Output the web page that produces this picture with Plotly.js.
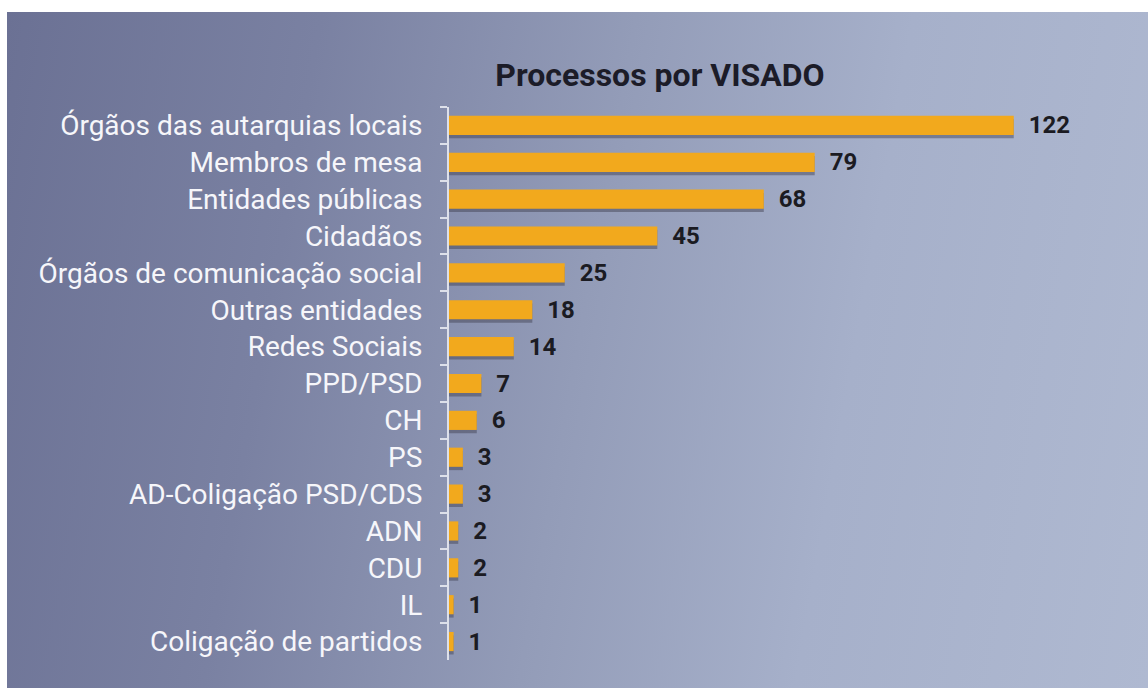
<!DOCTYPE html>
<html>
<head>
<meta charset="utf-8">
<script src="https://cdn.plot.ly/plotly-3.0.1.min.js"></script>
<style>
  html, body { margin: 0; padding: 0; background: #ffffff; }
  #bg { position: absolute; left: 7px; top: 12px; width: 1141px; height: 676px;
        background: linear-gradient(100deg, #6b7194 0%, #7a81a2 25%, #939cb8 50%, #a6b0ca 72%, #afb9d1 100%); }
  #chart { position: absolute; left: 0; top: 0; width: 1148px; height: 688px; }
</style>
</head>
<body>
<div id="bg"></div>
<div id="chart"></div>
<script>
const categories = [
  "Órgãos das autarquias locais",
  "Membros de mesa",
  "Entidades públicas",
  "Cidadãos",
  "Órgãos de comunicação social",
  "Outras entidades",
  "Redes Sociais",
  "PPD/PSD",
  "CH",
  "PS",
  "AD-Coligação PSD/CDS",
  "ADN",
  "CDU",
  "IL",
  "Coligação de partidos"
];
const values = [122, 79, 68, 45, 25, 18, 14, 7, 6, 3, 3, 2, 2, 1, 1];
const chartTitle = "Processos por VISADO";

const barWidth = 0.52;

const shadow = {
  type: 'bar',
  orientation: 'h',
  y: categories,
  x: values,
  width: barWidth,
  offset: -barWidth / 2 + 0.09,
  marker: { color: 'rgba(60,60,75,0.45)' },
  hoverinfo: 'skip',
  showlegend: false
};

const bars = {
  type: 'bar',
  orientation: 'h',
  y: categories,
  x: values,
  width: barWidth,
  marker: { color: '#f2a91d' },
  text: values.map(String),
  texttemplate: '\u00a0\u00a0%{text}',
  textposition: 'outside',
  constraintext: 'none',
  cliponaxis: false,
  textfont: { family: 'Roboto, sans-serif', size: 24, color: '#1b1b22', weight: 'bold' },
  showlegend: false
};

const layout = {
  width: 1148,
  height: 688,
  paper_bgcolor: 'rgba(0,0,0,0)',
  plot_bgcolor: 'rgba(0,0,0,0)',
  margin: { l: 449, r: 0, t: 107, b: 28 },
  barmode: 'overlay',
  title: {
    text: '<b>' + chartTitle + '</b>',
    font: { family: 'Roboto, sans-serif', size: 32, color: '#1c1c28' },
    x: 660 / 1148, xanchor: 'center', xref: 'container',
    y: 1 - 75 / 688, yanchor: 'middle', yref: 'container'
  },
  xaxis: {
    range: [0, 151],
    visible: false,
    showgrid: false,
    zeroline: false
  },
  yaxis: {
    type: 'category',
    autorange: 'reversed',
    showgrid: false,
    zeroline: false,
    showline: true,
    linecolor: '#dde0ea',
    linewidth: 2,
    ticks: 'outside',
    tickson: 'boundaries',
    ticklen: 7,
    tickwidth: 2,
    tickcolor: '#dde0ea',
    ticklabelstandoff: 19,
    tickfont: { family: 'Roboto, sans-serif', size: 28, color: '#f6f6fa' }
  },
  font: { family: 'Roboto, sans-serif' }
};

Plotly.newPlot('chart', [shadow, bars], layout, { displayModeBar: false, staticPlot: true });
</script>
</body>
</html>
